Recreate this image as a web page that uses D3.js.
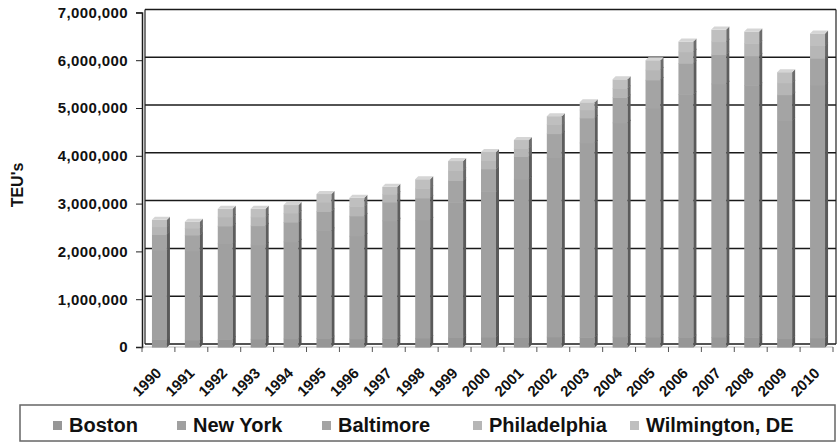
<!DOCTYPE html>
<html><head><meta charset="utf-8">
<script src="https://cdn.jsdelivr.net/npm/d3@7"></script>
<style>body{margin:0;background:#fff}svg{display:block;font-family:"Liberation Sans",Arial,sans-serif;font-weight:bold}</style>
</head><body><svg id="c" width="838" height="443"></svg>
<script>
const years = ["1990","1991","1992","1993","1994","1995","1996","1997","1998","1999","2000","2001","2002","2003","2004","2005","2006","2007","2008","2009","2010"];
const seriesNames = ["Boston","New York","Baltimore","Philadelphia","Wilmington, DE"];
const boston = [160,150,165,170,175,180,175,185,190,200,210,200,215,205,215,210,200,210,205,180,195].map(v=>v*1000);
const newYork = [1870,1865,2000,1970,2030,2260,2150,2460,2470,2830,3050,3320,3750,4070,4480,4790,5090,5300,5270,4560,5290].map(v=>v*1000);
const baltimore = [330,330,370,400,410,400,420,390,460,460,470,470,500,520,530,590,650,610,620,540,560].map(v=>v*1000);
const philadelphia = [160,145,190,185,190,195,200,165,200,210,180,170,190,170,190,210,240,270,260,250,270].map(v=>v*1000);
const wilmington = [140,130,165,165,165,165,175,150,190,190,170,170,175,155,185,200,210,250,245,220,245].map(v=>v*1000);
const yTicks = [0,1000000,2000000,3000000,4000000,5000000,6000000,7000000];
const colors = ["#979797","#a0a0a0","#a4a4a4","#b6b6b6","#bfbfbf"];

const rows = years.map((y,i)=>({year:y,"Boston":boston[i],"New York":newYork[i],"Baltimore":baltimore[i],"Philadelphia":philadelphia[i],"Wilmington, DE":wilmington[i]}));
const stacked = d3.stack().keys(seriesNames)(rows);

const svg = d3.select("#c");
const L=142, R=833, T=12.4, B=347, DX=3, DY=-3;
const y = d3.scaleLinear().domain([0,7000000]).range([B,T]);
const x = d3.scaleBand().domain(years).range([L,R]).paddingInner(0).paddingOuter(0);

svg.append("g").selectAll("line").data(yTicks).join("line")
  .attr("x1",L+DX).attr("x2",836).attr("y1",d=>y(d)+DY).attr("y2",d=>y(d)+DY)
  .attr("stroke","#1a1a1a").attr("stroke-width",1.5);
svg.append("line").attr("x1",L+DX).attr("x2",L+DX).attr("y1",y(7000000)+DY).attr("y2",B+DY).attr("stroke","#222").attr("stroke-width",1.2);
svg.append("line").attr("x1",836).attr("x2",836).attr("y1",y(7000000)+DY).attr("y2",B+DY).attr("stroke","#222").attr("stroke-width",1.2);
svg.append("line").attr("x1",L).attr("x2",R).attr("y1",B).attr("y2",B).attr("stroke","#bbb").attr("stroke-width",1);

const yAxis = d3.axisLeft(y).tickValues(yTicks).tickSize(6).tickPadding(8).tickFormat(d3.format(","));
const ga = svg.append("g").attr("transform",`translate(${L},0)`).call(yAxis);
ga.select(".domain").attr("stroke","#1a1a1a").attr("stroke-width",1.5);
ga.selectAll(".tick line").attr("stroke","#222");
ga.selectAll("text").attr("font-size",15).attr("font-weight","bold").attr("fill","#111").attr("font-family","Liberation Sans, Arial, sans-serif").attr("letter-spacing","0.4px");

svg.append("text").attr("transform","translate(23,185) rotate(-90)").attr("text-anchor","middle")
  .attr("font-size",16).attr("fill","#111").text("TEU's");

const bw = 15;
const gBars = svg.append("g");
stacked.forEach((s,si)=>{
  const g = gBars.append("g");
  s.forEach((d,i)=>{
    const cx = x(years[i]) + x.bandwidth()/2 + 1;
    const x0 = cx - bw/2, y0 = y(d[1]), y1 = y(d[0]);
    g.append("rect").attr("x",x0).attr("y",y0).attr("width",bw).attr("height",y1-y0+0.6).attr("fill",colors[si]);
    g.append("path").attr("d",`M${x0+bw},${y1+0.6}L${x0+bw+DX},${y1+DY+0.6}L${x0+bw+DX},${y0+DY}L${x0+bw},${y0}Z`).attr("fill",d3.color(colors[si]).darker(1.6));
    if(si===seriesNames.length-1){
      g.append("path").attr("d",`M${x0},${y0}L${x0+DX},${y0+DY}L${x0+bw+DX},${y0+DY}L${x0+bw},${y0}Z`).attr("fill",d3.color(colors[si]).brighter(0.3));
    }
  });
});

svg.append("g").selectAll("line").data(years.concat(["end"])).join("line")
  .attr("x1",(d,i)=>L+i*x.step()).attr("x2",(d,i)=>L+i*x.step()).attr("y1",B).attr("y2",B+5).attr("stroke","#555");
svg.append("g").selectAll("text").data(years).join("text")
  .attr("transform",d=>`translate(${x(d)+x.bandwidth()/2+4},${B+27}) rotate(-45)`)
  .attr("text-anchor","end").attr("font-size",15).attr("fill","#111").text(d=>d);

const lg = svg.append("g");
lg.append("rect").attr("x",20).attr("y",405).attr("width",815).attr("height",36).attr("fill","#fff").attr("stroke","#666").attr("stroke-width",1.5);
const lx = [53,177,322,473,630];
seriesNames.forEach((n,i)=>{
  lg.append("rect").attr("x",lx[i]).attr("y",421).attr("width",9).attr("height",9).attr("fill",colors[i]);
  lg.append("text").attr("x",lx[i]+16).attr("y",432).attr("font-size",20).attr("fill","#111").text(n);
});
</script></body></html>
